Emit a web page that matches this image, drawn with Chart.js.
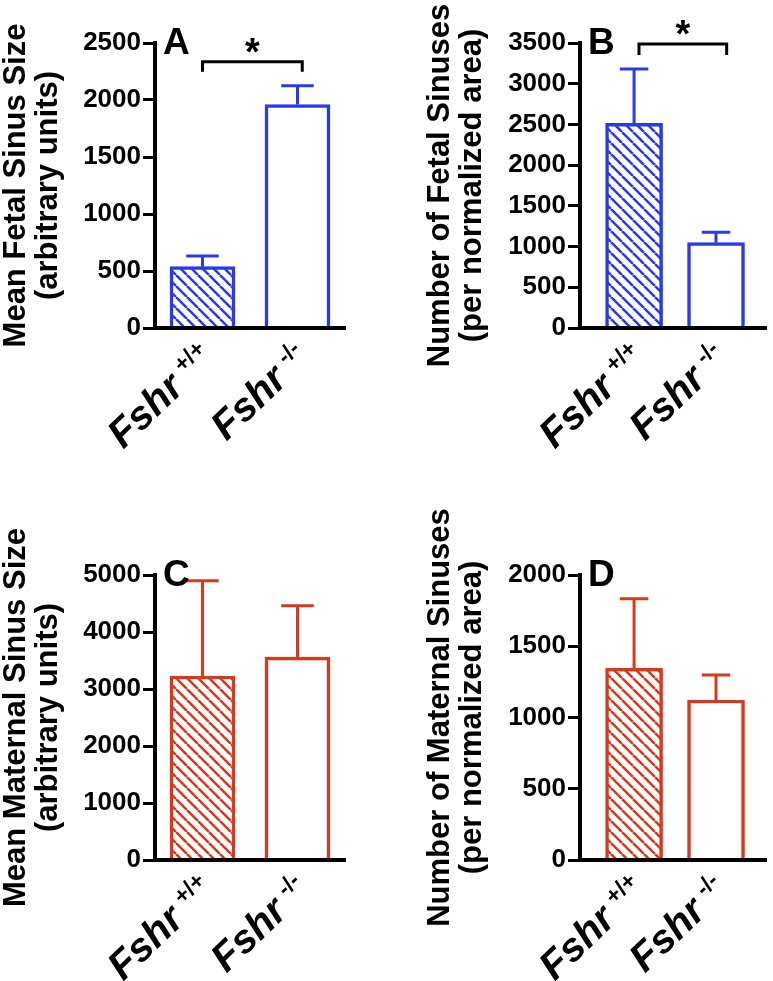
<!DOCTYPE html>
<html>
<head>
<meta charset="utf-8">
<script src="https://cdn.jsdelivr.net/npm/chart.js@4/dist/chart.umd.min.js"></script>
<style>
html, body { margin: 0; padding: 0; background: #ffffff; }
#wrap { position: relative; width: 773px; height: 981px; overflow: hidden; background: #fff; }
canvas { position: absolute; display: block; }
</style>
</head>
<body>
<div id="wrap">
  <canvas id="cA" width="386" height="480" style="left:0px;top:0px"></canvas>
  <canvas id="cB" width="349" height="480" style="left:424px;top:0px"></canvas>
  <canvas id="cC" width="386" height="501" style="left:0px;top:480px"></canvas>
  <canvas id="cD" width="349" height="501" style="left:424px;top:480px"></canvas>
</div>
<script>
// ---------------- DATA ----------------
const categories = ['Fshr +/+', 'Fshr -/-'];

const fetalSizeMean = [538, 1960];
const fetalSizeSEM  = [94, 165];

const fetalCountMean = [2514, 1048];
const fetalCountSEM  = [667, 127];

const maternalSizeMean = [3228, 3560];
const maternalSizeSEM  = [1670, 901];

const maternalCountMean = [1345, 1123];
const maternalCountSEM  = [489, 175];

const ticksA = [0, 500, 1000, 1500, 2000, 2500];
const ticksB = [0, 500, 1000, 1500, 2000, 2500, 3000, 3500];
const ticksC = [0, 1000, 2000, 3000, 4000, 5000];
const ticksD = [0, 500, 1000, 1500, 2000];

const titleA = ['Mean Fetal Sinus Size', '(arbitrary units)'];
const titleB = ['Number of Fetal Sinuses', '(per normalized area)'];
const titleC = ['Mean Maternal Sinus Size', '(arbitrary units)'];
const titleD = ['Number of Maternal Sinuses', '(per normalized area)'];

const panelLetters = ['A', 'B', 'C', 'D'];

// significance brackets (x in category units, y in data units)
const sigA = { from: 0, to: 1.05, y: 2336, legEnd: 2248, mark: '*' };
const sigB = { from: 0.06, to: 1.13, y: 3488, legEnd: 3353, mark: '*' };

// ---------------- STYLE ----------------
const FONT = '"Liberation Sans", Arial, Helvetica, sans-serif';
Chart.defaults.font.family = FONT;
const BLUE = '#2a3ae6';
const RED = '#d8391c';

function hatch(color) {
  const s = 11;
  const tile = document.createElement('canvas');
  tile.width = s; tile.height = s;
  const g = tile.getContext('2d');
  g.fillStyle = '#ffffff';
  g.fillRect(0, 0, s, s);
  g.strokeStyle = color;
  g.lineWidth = 2.5;
  g.beginPath();
  for (const k of [-1, 0, 1]) { g.moveTo(k * s, 0); g.lineTo(k * s + s, s); }
  g.stroke();
  return g.createPattern(tile, 'repeat');
}

const errorBars = {
  id: 'errorBars',
  afterDatasetsDraw(chart, args, opts) {
    const ctx = chart.ctx, ys = chart.scales.y;
    const meta = chart.getDatasetMeta(0);
    const ds = chart.data.datasets[0];
    ctx.save();
    ctx.strokeStyle = opts.color;
    ctx.lineWidth = 3;
    meta.data.forEach((el, i) => {
      const top = ys.getPixelForValue(ds.data[i].y + opts.sem[i]);
      const half = el.width / 4;
      ctx.beginPath();
      ctx.moveTo(el.x, el.y);
      ctx.lineTo(el.x, top);
      ctx.moveTo(el.x - half, top);
      ctx.lineTo(el.x + half, top);
      ctx.stroke();
    });
    ctx.restore();
  }
};

const annotations = {
  id: 'annotations',
  afterDraw(chart, args, opts) {
    const ctx = chart.ctx, xs = chart.scales.x, ys = chart.scales.y;
    const area = chart.chartArea;
    ctx.save();
    ctx.fillStyle = '#000';
    ctx.strokeStyle = '#000';
    // panel letter
    ctx.font = 'bold 37px ' + FONT;
    ctx.textAlign = 'left';
    ctx.textBaseline = 'alphabetic';
    ctx.fillText(opts.letter, area.left + 8, area.top + 11);
    // significance bracket
    if (opts.sig) {
      const s = opts.sig;
      const x1 = xs.getPixelForValue(s.from), x2 = xs.getPixelForValue(s.to);
      const y = ys.getPixelForValue(s.y), yl = ys.getPixelForValue(s.legEnd);
      ctx.lineWidth = 3;
      ctx.beginPath();
      ctx.moveTo(x1, yl); ctx.lineTo(x1, y); ctx.lineTo(x2, y); ctx.lineTo(x2, yl);
      ctx.stroke();
      ctx.font = 'bold 38px ' + FONT;
      ctx.textAlign = 'center';
      ctx.fillText(s.mark, (x1 + x2) / 2, y + 3);
    }
    // x category labels (gene in italics, genotype as superscript)
    const ang = opts.angle * Math.PI / 180;
    categories.forEach((lab, i) => {
      const parts = lab.split(' ');
      const gene = parts[0], geno = parts.slice(1).join(' ');
      const x = xs.getPixelForValue(i);
      ctx.save();
      ctx.translate(x - 8, area.bottom + 10);
      ctx.rotate(-ang);
      ctx.textAlign = 'right';
      ctx.textBaseline = 'alphabetic';
      ctx.font = 'bold 23px ' + FONT;
      const ws = ctx.measureText(geno).width;
      ctx.fillText(geno, 0, 17);
      ctx.font = 'italic bold 40px ' + FONT;
      ctx.fillText(gene, -(ws + 9), 31);
      ctx.restore();
    });
    ctx.restore();
  }
};

function makePanel(id, cw, ch, area, color, mean, sem, ticks, title, letter, sig, xMin, xMax, barW) {
  const data = categories.map((c, i) => ({ x: i, y: mean[i] }));
  return new Chart(document.getElementById(id), {
    type: 'bar',
    data: {
      datasets: [{
        data: data,
        backgroundColor: [hatch(color), '#ffffff'],
        borderColor: color,
        borderWidth: 3.5,
        barThickness: barW
      }]
    },
    plugins: [errorBars, annotations],
    options: {
      responsive: false,
      animation: false,
      devicePixelRatio: 1,
      events: [],
      layout: { padding: { left: 0, top: area.t, right: cw - area.r, bottom: 0 } },
      plugins: {
        legend: { display: false },
        tooltip: { enabled: false },
        errorBars: { color: color, sem: sem },
        annotations: { letter: letter, sig: sig, angle: 44 }
      },
      scales: {
        x: {
          type: 'linear', min: xMin, max: xMax, offset: false,
          ticks: { display: false },
          grid: { display: false },
          border: { display: true, color: '#000', width: 4, z: 1 },
          afterFit(s) { s.height = ch - area.b; }
        },
        y: {
          min: 0, max: ticks[ticks.length - 1],
          afterBuildTicks(s) { s.ticks = ticks.map(v => ({ value: v })); },
          ticks: { color: '#000', font: { size: 26, weight: 'bold' }, padding: 2, callback: (v) => String(v) },
          grid: { display: true, drawOnChartArea: false, drawTicks: true, tickLength: 12, tickWidth: 3, tickColor: '#000' },
          border: { display: true, color: '#000', width: 4, z: 1 },
          title: { display: true, text: title, color: '#000', font: { size: 31, weight: 'bold', lineHeight: 1.05 }, padding: { top: 0, bottom: 0 } },
          afterFit(s) { s.width = area.l; }
        }
      }
    }
  });
}

makePanel('cA', 386, 480, { l: 155, t: 43, r: 345, b: 328 }, BLUE, fetalSizeMean, fetalSizeSEM, ticksA, titleA, panelLetters[0], sigA, -0.5, 1.5, 65);
makePanel('cB', 349, 480, { l: 156, t: 43, r: 342, b: 328 }, BLUE, fetalCountMean, fetalCountSEM, ticksB, titleB, panelLetters[1], sigB, -0.66, 1.61, 57);
makePanel('cC', 386, 501, { l: 155, t: 95, r: 345, b: 380 }, RED, maternalSizeMean, maternalSizeSEM, ticksC, titleC, panelLetters[2], null, -0.5, 1.5, 65);
makePanel('cD', 349, 501, { l: 156, t: 95, r: 342, b: 380 }, RED, maternalCountMean, maternalCountSEM, ticksD, titleD, panelLetters[3], null, -0.66, 1.61, 57);
</script>
</body>
</html>
